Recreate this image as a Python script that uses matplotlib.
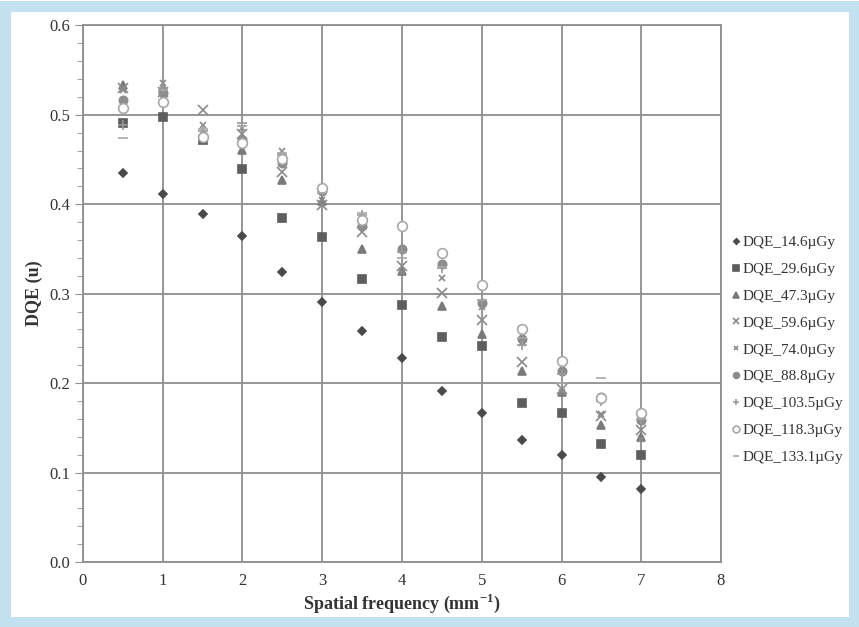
import numpy as np
import matplotlib.pyplot as plt
from matplotlib.patches import Rectangle

plt.rcParams['font.family'] = ['Liberation Serif', 'DejaVu Serif']

# spatial frequency (mm^-1)
freq = [0.5, 1.0, 1.5, 2.0, 2.5, 3.0, 3.5, 4.0, 4.5, 5.0, 5.5, 6.0, 6.5, 7.0]

# DQE values per dose
dqe_14_6 = [0.435, 0.411, 0.389, 0.364, 0.324, 0.291, 0.258, 0.228, 0.191, 0.167, 0.136, 0.120, 0.095, 0.082]
dqe_29_6 = [0.491, 0.498, 0.472, 0.439, 0.385, 0.363, 0.316, 0.287, 0.251, 0.241, 0.178, 0.166, 0.132, 0.120]
dqe_47_3 = [0.533, 0.530, 0.479, 0.461, 0.427, 0.404, 0.350, 0.325, 0.286, 0.255, 0.213, 0.190, 0.153, 0.140]
dqe_59_6 = [0.530, 0.525, 0.505, 0.478, 0.436, 0.399, 0.369, 0.331, 0.301, 0.270, 0.224, 0.193, 0.163, 0.148]
dqe_74_0 = [0.528, 0.536, 0.489, 0.485, 0.459, 0.405, 0.376, 0.324, 0.318, 0.285, 0.245, 0.190, 0.165, 0.137]
dqe_88_8 = [0.516, 0.524, 0.476, 0.472, 0.446, 0.415, 0.376, 0.350, 0.333, 0.290, 0.249, 0.214, 0.184, 0.159]
dqe_103_5 = [0.488, 0.530, 0.482, 0.491, 0.455, 0.418, 0.388, 0.346, 0.329, 0.293, 0.243, 0.210, 0.180, 0.160]
dqe_118_3 = [0.507, 0.514, 0.475, 0.468, 0.450, 0.418, 0.382, 0.376, 0.345, 0.310, 0.261, 0.225, 0.183, 0.166]
dqe_133_1 = [0.474, 0.528, 0.484, 0.487, 0.457, 0.412, 0.390, 0.340, 0.330, 0.293, 0.250, 0.200, 0.206, 0.160]

labels = ['DQE_14.6\u00b5Gy', 'DQE_29.6\u00b5Gy', 'DQE_47.3\u00b5Gy', 'DQE_59.6\u00b5Gy',
          'DQE_74.0\u00b5Gy', 'DQE_88.8\u00b5Gy', 'DQE_103.5\u00b5Gy', 'DQE_118.3\u00b5Gy',
          'DQE_133.1\u00b5Gy']
series = [dqe_14_6, dqe_29_6, dqe_47_3, dqe_59_6, dqe_74_0, dqe_88_8, dqe_103_5, dqe_118_3, dqe_133_1]

# marker styles (marker, size, face, edge)
styles = [
    ('D', 4, '#4a4a4a', '#4a4a4a'),
    ('s', 6, '#5e5e5e', '#5e5e5e'),
    ('^', 6, '#7a7a7a', '#7a7a7a'),
    ('x', 7, '#8a8a8a', '#8a8a8a'),
    ('x', 5, '#8a8a8a', '#8a8a8a'),
    ('o', 6, '#8c8c8c', '#8c8c8c'),
    ('+', 7, '#9a9a9a', '#9a9a9a'),
    ('o', 7, 'white', '#a8a8a8'),
    ('_', 7, '#a8a8a8', '#a8a8a8'),
]

fig = plt.figure(figsize=(8.59, 6.27), dpi=100)
fig.patch.set_facecolor('white')
# light blue frame round the picture
fig.patches.append(Rectangle((0.006, 0.008), 0.988, 0.982, transform=fig.transFigure,
                             fill=False, edgecolor='#c4e1f2', linewidth=8))

ax = fig.add_axes([0.0966, 0.1037, 0.7428, 0.856])
for y, (m, s, fc, ec), lab in zip(series, styles, labels):
    ax.plot(freq, y, linestyle='none', marker=m, markersize=s,
            markerfacecolor=fc, markeredgecolor=ec, markeredgewidth=1.2, label=lab)

ax.set_xlim(0, 8)
ax.set_ylim(0, 0.6)
ax.set_xticks(np.arange(0, 9, 1))
ax.set_yticks(np.arange(0, 0.61, 0.1))
ax.set_yticks(np.arange(0, 0.61, 0.02), minor=True)
ax.yaxis.set_major_formatter(plt.FormatStrFormatter('%.1f'))
ax.grid(True, which='major', color='#8f8f8f', linewidth=1.3)
ax.set_axisbelow(True)
for sp in ax.spines.values():
    sp.set_color('#8f8f8f')
    sp.set_linewidth(1.3)
ax.tick_params(axis='both', which='both', colors='#8f8f8f', labelcolor='#333333',
               labelsize=12, direction='out')
ax.tick_params(axis='y', which='major', length=6)
ax.tick_params(axis='y', which='minor', length=4)
ax.tick_params(axis='x', length=0, pad=8)

ax.set_ylabel('DQE (u)', fontsize=13, fontweight='bold', color='#333333', labelpad=4)
ax.set_xlabel('Spatial frequency (mm$^{\\mathregular{-1}}$)', fontsize=13,
              fontweight='bold', color='#333333', labelpad=2)

ax.legend(loc='upper left', bbox_to_anchor=(1.0, 0.628), frameon=False, fontsize=11,
          handlelength=0.5, handletextpad=0.2, labelspacing=0.86, markerscale=0.7,
          labelcolor='#333333', borderaxespad=0.3)

fig.savefig('out.png', dpi=100)
